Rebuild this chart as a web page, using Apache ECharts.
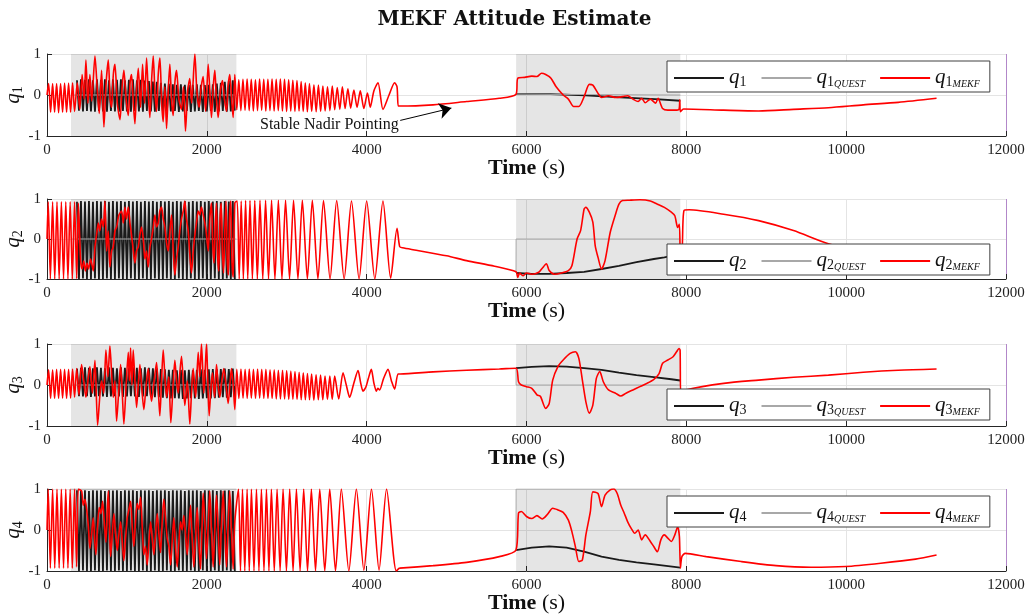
<!DOCTYPE html>
<html>
<head>
<meta charset="utf-8">
<title>MEKF Attitude Estimate</title>
<script src="https://cdn.jsdelivr.net/npm/echarts@6/dist/echarts.min.js"></script>
<style>
  html, body { margin: 0; padding: 0; background: #fff; }
  #chart { width: 1029px; height: 616px; }
</style>
</head>
<body>
<div id="chart"></div>
<script>
// shaded windows (s) and axis ticks
const shadeRanges = [[300, 2370], [5870, 7925]];
const xTicks = [0, 2000, 4000, 6000, 8000, 10000, 12000];
const yTicks = [-1, 0, 1];
const quatNames = ['q1', 'q2', 'q3', 'q4'];

// time stamps of the fast truth oscillation inside the first window
const tFast = [375, 400, 425, 450, 475, 500, 525, 550, 575, 600, 625, 650, 675, 700, 725, 750, 775, 800, 825, 850,
  875, 900, 925, 950, 975, 1000, 1025, 1050, 1075, 1100, 1125, 1150, 1175, 1200, 1225, 1250, 1275, 1300, 1325, 1350,
  1375, 1400, 1425, 1450, 1475, 1500, 1525, 1550, 1575, 1600, 1625, 1650, 1675, 1700, 1725, 1750, 1775, 1800, 1825, 1850,
  1875, 1900, 1925, 1950, 1975, 2000, 2025, 2050, 2075, 2100, 2125, 2150, 2175, 2200, 2225, 2250, 2275, 2300, 2325, 2350];

// true attitude, first window
const q1TrueFast = [0.36, -0.38, 0.38, -0.4, 0.37, -0.39, 0.38, -0.4, 0.36, -0.41, 0.38, -0.39, 0.37, -0.4, 0.38, -0.41, 0.36, -0.39, 0.38, -0.4,
  0.37, -0.41, 0.38, -0.39, 0.36, -0.4, 0.37, -0.41, 0.38, -0.39, 0.36, -0.4, 0.37, -0.41, 0.35, -0.39, 0.34, -0.4, 0.33, -0.41,
  0.32, -0.39, 0.3, -0.4, 0.28, -0.41, 0.27, -0.4, 0.26, -0.39, 0.25, -0.41, 0.26, -0.4, 0.25, -0.39, 0.24, -0.41, 0.25, -0.4,
  0.26, -0.39, 0.25, -0.41, 0.24, -0.4, 0.25, -0.39, 0.26, -0.41, 0.28, -0.4, 0.3, -0.39, 0.32, -0.41, 0.34, -0.4, 0.36, -0.38];
const q2TrueFast = [0.93, -1, 0.95, -0.99, 0.94, -1, 0.95, -1, 0.93, -0.99, 0.95, -1, 0.94, -1, 0.95, -0.99, 0.93, -1, 0.95, -1,
  0.94, -0.99, 0.95, -1, 0.93, -1, 0.95, -0.99, 0.94, -1, 0.95, -1, 0.93, -0.99, 0.95, -1, 0.94, -1, 0.95, -0.99,
  0.93, -1, 0.95, -1, 0.94, -0.99, 0.95, -1, 0.93, -1, 0.95, -0.99, 0.94, -1, 0.95, -1, 0.93, -0.99, 0.95, -1,
  0.94, -1, 0.95, -0.99, 0.93, -1, 0.95, -1, 0.94, -0.99, 0.95, -1, 0.93, -1, 0.95, -0.99, 0.94, -1, 0.95, -1];
const q3TrueFast = [0.4, -0.27, 0.42, -0.28, 0.43, -0.27, 0.42, -0.29, 0.41, -0.28, 0.43, -0.27, 0.42, -0.28, 0.41, -0.29, 0.43, -0.28, 0.42, -0.27,
  0.41, -0.28, 0.43, -0.29, 0.42, -0.28, 0.41, -0.27, 0.43, -0.28, 0.42, -0.29, 0.41, -0.28, 0.43, -0.27, 0.42, -0.28, 0.41, -0.3,
  0.4, -0.3, 0.39, -0.31, 0.38, -0.32, 0.37, -0.33, 0.37, -0.32, 0.36, -0.33, 0.37, -0.34, 0.36, -0.33, 0.37, -0.32, 0.36, -0.33,
  0.37, -0.34, 0.38, -0.33, 0.37, -0.32, 0.38, -0.33, 0.39, -0.32, 0.38, -0.31, 0.39, -0.3, 0.4, -0.31, 0.39, -0.3, 0.4, -0.29];
const q4TrueFast = [0.97, -1, 0.96, -0.99, 0.97, -1, 0.95, -1, 0.97, -0.99, 0.96, -1, 0.97, -1, 0.95, -0.99, 0.97, -1, 0.96, -1,
  0.97, -0.99, 0.95, -1, 0.97, -1, 0.96, -0.99, 0.97, -1, 0.95, -1, 0.97, -0.99, 0.96, -1, 0.97, -1, 0.95, -0.99,
  0.97, -1, 0.96, -1, 0.97, -0.99, 0.95, -1, 0.97, -1, 0.96, -0.99, 0.97, -1, 0.95, -1, 0.97, -0.99, 0.96, -1,
  0.97, -1, 0.95, -0.99, 0.97, -1, 0.96, -1, 0.97, -0.99, 0.95, -1, 0.97, -1, 0.96, -0.99, 0.97, -1, 0.95, -1];

// true attitude, second window [t, q]
const q1TrueSlow = [[5869, 0.02], [6300, 0.02], [6740, -0.01], [7170, -0.06], [7610, -0.1], [7925, -0.14]];
const q2TrueSlow = [[5869, -0.85], [6066, -0.87], [6284, -0.87], [6502, -0.85], [6721, -0.82], [6939, -0.75],
  [7157, -0.67], [7376, -0.58], [7594, -0.5], [7725, -0.46], [7925, -0.38]];
const q3TrueSlow = [[5869, 0.41], [6066, 0.44], [6284, 0.46], [6502, 0.45], [6721, 0.41], [6939, 0.37],
  [7157, 0.3], [7376, 0.24], [7594, 0.19], [7812, 0.14], [7925, 0.11]];
const q4TrueSlow = [[5869, -0.49], [6066, -0.43], [6284, -0.4], [6502, -0.43], [6721, -0.53], [6939, -0.65],
  [7157, -0.73], [7376, -0.79], [7594, -0.84], [7925, -0.92]];

// QUEST solution [t, q]
const q1Quest = [[300, 0], [2370, 0], [4000, '-'], [5869, 0.02], [5870, 0], [7925, 0]];
const q2Quest = [[300, 0], [2370, 0], [4000, '-'], [5869, -0.85], [5870, 0], [7925, 0]];
const q3Quest = [[300, 0], [2370, 0], [4000, '-'], [5869, 0.41], [5870, 0], [7925, 0]];
const q4Quest = [[300, 1], [2370, 1], [4000, '-'], [5869, -0.49], [5870, 1], [7925, 1]];

// MEKF estimate [t, q]
const q1Mekf = [[0, 0], [20, 0.28], [45, -0.42], [70, 0.28], [95, -0.42], [120, 0.28], [145, -0.43], [170, 0.28], [195, -0.42],
  [220, 0.29], [245, -0.42], [270, 0.29], [295, -0.42], [320, 0.3], [345, -0.4], [379, 0.3], [410, -0.35], [440, 0.5],
  [465, -0.1], [487, 0.85], [512, -0.2], [537, 0.5], [560, -0.15], [600, 0.95], [630, 0.1], [654, -0.45], [683, 0.6],
  [712, -0.78], [740, 0.3], [767, 0.85], [790, -0.1], [808, -0.3], [830, 0.5], [850, 0.75], [880, -0.2], [913, -0.6],
  [940, 0.2], [962, 0.6], [990, -0.1], [1017, -0.5], [1040, 0.3], [1058, 0.5], [1080, -0.2], [1100, -0.7], [1120, 0.1],
  [1142, 0.65], [1170, -0.3], [1196, 0.75], [1220, -0.2], [1246, 0.9], [1268, 0], [1287, -0.55], [1310, 0.4], [1329, 0.95],
  [1350, 0.1], [1371, -0.4], [1392, 0.5], [1413, 0.9], [1435, -0.2], [1454, -0.65], [1475, 0.2], [1496, -0.82], [1517, 0.1],
  [1537, 0.75], [1558, -0.1], [1579, -0.5], [1600, 0.3], [1621, 0.6], [1650, -0.1], [1683, -0.35], [1708, 0.2], [1733, -0.88],
  [1760, 0.1], [1787, 0.4], [1810, -0.2], [1850, 1], [1875, 0.1], [1904, -0.3], [1930, 0.2], [1954, 0.45], [1985, -0.4],
  [2017, 0.75], [2040, 0], [2058, -0.55], [2080, 0.2], [2100, 0.6], [2120, -0.1], [2142, -0.55], [2170, 0.1], [2196, 0.35],
  [2220, -0.1], [2246, -0.4], [2265, 0.2], [2287, 0.5], [2310, -0.1], [2329, -0.55], [2350, 0.5],
  [2375, -0.36], [2400, 0.37], [2426, -0.38], [2452, 0.38], [2478, -0.37], [2504, 0.39], [2530, -0.38], [2556, 0.38],
  [2582, -0.39], [2608, 0.37], [2634, -0.38], [2660, 0.39], [2686, -0.37], [2712, 0.38], [2738, -0.39], [2764, 0.38],
  [2790, -0.38], [2816, 0.39], [2842, -0.39], [2868, 0.38], [2894, -0.38], [2920, 0.39], [2946, -0.39], [2972, 0.38],
  [2998, -0.4], [3024, 0.37], [3050, -0.39], [3076, 0.36], [3102, -0.4], [3128, 0.35], [3154, -0.39], [3180, 0.33],
  [3206, -0.4], [3232, 0.3], [3258, -0.41], [3284, 0.28], [3312, -0.4], [3340, 0.25], [3368, -0.41], [3396, 0.24],
  [3424, -0.4], [3452, 0.22], [3480, -0.39], [3510, 0.2], [3540, -0.38], [3570, 0.22], [3600, -0.36], [3632, 0.18],
  [3664, -0.35], [3696, 0.2], [3730, -0.33], [3765, 0.15], [3800, -0.32], [3840, 0.12], [3880, -0.3], [3920, 0.1],
  [3965, -0.33], [4010, 0.05], [4045, -0.3], [4090, 0.1], [4142, 0.3], [4204, -0.35], [4280, 0], [4350, 0.3], [4380, 0.2],
  [4395, -0.27], [4420, -0.27], [4830, -0.24], [5250, -0.16], [5660, -0.08], [5869, 0.02],
  [5891, 0.41], [5978, 0.43], [6066, 0.46], [6131, 0.45], [6188, 0.53], [6240, 0.5], [6306, 0.41], [6371, 0.2], [6459, 0],
  [6524, -0.1], [6590, -0.28], [6655, -0.28], [6721, -0.04], [6786, 0.26], [6830, 0.24], [6895, 0.04], [6939, -0.06],
  [7026, -0.02], [7114, -0.06], [7201, -0.04], [7266, -0.02], [7332, -0.1], [7397, -0.16], [7441, -0.08], [7485, -0.19],
  [7550, -0.1], [7616, -0.2], [7646, -0.08], [7703, -0.33], [7769, -0.37], [7856, -0.37], [7908, -0.35], [7918, -0.12],
  [7926, -0.41], [7965, -0.34], [8467, -0.37], [8904, -0.39], [9341, -0.35], [9778, -0.31], [10214, -0.24], [10651, -0.18],
  [11131, -0.08]];

const q2Mekf = [[0, 0], [15, 0.93], [42, -1], [70, 0.93], [97, -1], [125, 0.93], [152, -1], [180, 0.93], [207, -1], [235, 0.93],
  [262, -1], [290, 0.93], [317, -1], [345, 0.93], [372, -0.99], [392, 0.9], [420, -0.5], [440, -0.75], [460, -0.55],
  [480, -0.8], [500, -0.6], [520, -0.75], [545, -0.5], [579, -0.8], [600, -0.2], [620, 0.1], [642, 0.4], [660, 0.2],
  [683, 0.5], [705, 0.3], [725, 0.95], [746, -0.3], [766, 0.2], [787, -0.7], [808, -0.3], [829, -0.2], [850, 0.2],
  [871, 0.3], [900, 0.6], [933, 0.7], [955, 0.4], [975, 0.8], [995, 0.5], [1017, 0.8], [1038, 0.4], [1058, 0.1],
  [1080, -0.3], [1100, -0.6], [1120, -0.3], [1142, -0.2], [1162, 0.1], [1183, 0.3], [1205, 0], [1225, -0.5], [1245, -0.3],
  [1267, -0.7], [1288, -0.2], [1308, 0], [1330, 0.3], [1350, 0.6], [1370, 0.3], [1392, 0.4], [1412, 0.7], [1433, 0.8],
  [1455, 0.5], [1475, 0.3], [1496, -0.1], [1517, -0.3], [1538, 0.2], [1558, 0.6], [1580, -0.3], [1600, -0.9], [1620, -0.5],
  [1642, -0.2], [1662, 0.2], [1683, 0.5], [1705, 0.7], [1725, 0.95], [1745, 0.5], [1767, 0.2], [1788, -0.4], [1808, -0.85],
  [1830, -0.3], [1850, 0.1], [1870, 0.4], [1892, 0.7], [1912, 0.6], [1933, 0.8], [1955, 0.6], [1975, 0.4], [1996, 0.1],
  [2017, -0.3], [2037, 0.5], [2058, 0.9], [2075, -0.2], [2090, -0.6], [2105, 0.3], [2120, 0.9], [2135, -0.4], [2150, -0.8],
  [2165, 0.5], [2180, 0.9], [2195, -0.3], [2210, -0.85], [2225, 0.2], [2240, 0.95], [2255, -0.5], [2270, -0.9], [2285, 0.6],
  [2300, 0.95], [2315, -0.6], [2330, -0.95], [2350, 0.9],
  [2380, 0.95], [2405, -1], [2430, 0.95], [2457, -1], [2485, 0.96], [2512, -1], [2540, 0.96], [2570, -1], [2600, 0.96],
  [2632, -1], [2665, 0.97], [2700, -1], [2735, 0.97], [2772, -1], [2810, 0.97], [2852, -1], [2895, 0.97], [2940, -1],
  [2985, 0.97], [3035, -1], [3085, 0.97], [3140, -1], [3195, 0.97], [3258, -1], [3320, 0.97], [3390, -1], [3460, 0.96],
  [3542, -1], [3625, 0.96], [3718, -1], [3810, 0.95], [3905, -1], [4000, 0.95], [4102, -1], [4204, 0.95], [4300, -0.98],
  [4380, 0.27], [4413, -0.19], [4450, -0.22], [4620, -0.28], [5000, -0.42], [5250, -0.54], [5600, -0.68], [5869, -0.82],
  [5891, -0.96], [5913, -0.85], [5956, -0.92], [6000, -0.85], [6066, -0.88], [6153, -0.83], [6197, -0.73], [6249, -0.62],
  [6284, -0.79], [6349, -0.88], [6437, -0.85], [6524, -0.79], [6568, -0.67], [6633, 0], [6677, 0.21], [6721, 0.75],
  [6742, 0.79], [6786, 0.67], [6830, 0.42], [6860, -0.17], [6895, -0.46], [6939, -0.75], [6983, -0.54], [7048, 0.17],
  [7114, 0.62], [7157, 0.87], [7201, 0.96], [7288, 0.97], [7419, 0.98], [7550, 0.95], [7638, 0.87], [7725, 0.79],
  [7812, 0.67], [7856, 0.58], [7891, 0.29], [7913, 0.37], [7926, -0.5], [7948, -0.25], [7970, 0.71], [8035, 0.73],
  [8467, 0.62], [8904, 0.46], [9341, 0.21], [9778, -0.12], [10400, -0.42], [11131, -0.75]];

const q3Mekf = [[0, 0], [20, 0.37], [45, -0.33], [70, 0.37], [95, -0.33], [120, 0.38], [145, -0.33], [170, 0.38], [195, -0.32],
  [220, 0.38], [245, -0.33], [270, 0.38], [295, -0.32], [320, 0.39], [345, -0.3], [371, 0.4], [400, -0.25], [433, 0.5],
  [460, 0.1], [487, -0.3], [512, 0.1], [537, 0.45], [568, -0.2], [600, 0.6], [633, -0.98], [660, -0.3], [683, 0.1],
  [710, -0.2], [737, 0.85], [762, 0.2], [787, 0.95], [808, 0.3], [829, -0.3], [850, 0.1], [871, -0.88], [896, -0.2],
  [921, 0.5], [942, -0.2], [962, -0.95], [990, 0], [1017, 0.8], [1030, 0.1], [1046, 0.9], [1062, 0], [1079, 0.85],
  [1100, 0.1], [1121, -0.55], [1142, 0], [1162, 0.5], [1187, -0.1], [1212, -0.6], [1240, 0], [1267, 0.4], [1288, -0.1],
  [1308, -0.4], [1340, 0.1], [1371, 0.55], [1392, -0.1], [1412, -0.75], [1433, 0.1], [1454, 0.85], [1475, 0.2],
  [1496, -0.3], [1523, 0.2], [1550, -0.92], [1575, -0.1], [1600, 0.6], [1621, 0.1], [1642, -0.2], [1662, 0.3], [1683, 0.7],
  [1704, 0.1], [1725, -0.5], [1756, 0.1], [1787, -0.95], [1808, -0.2], [1829, 0.4], [1860, -0.3], [1892, 0.8], [1912, 0.2],
  [1933, 1], [1950, 0.3], [1962, -0.2], [1980, 0.4], [1996, 1], [2012, 0.1], [2029, -0.75], [2050, -0.1], [2071, 0.3],
  [2096, -0.3], [2121, 0.5], [2142, 0], [2162, -0.3], [2187, 0.1], [2212, 0.4], [2240, 0], [2267, -0.45], [2288, 0],
  [2308, 0.4], [2330, 0], [2350, -0.6],
  [2375, 0.38], [2401, -0.33], [2427, 0.39], [2453, -0.32], [2479, 0.38], [2505, -0.33], [2531, 0.39], [2557, -0.32],
  [2583, 0.38], [2609, -0.33], [2635, 0.39], [2661, -0.32], [2687, 0.38], [2713, -0.33], [2739, 0.38], [2765, -0.33],
  [2791, 0.37], [2817, -0.33], [2843, 0.37], [2869, -0.34], [2895, 0.36], [2921, -0.34], [2947, 0.36], [2973, -0.34],
  [2999, 0.35], [3025, -0.35], [3051, 0.34], [3077, -0.35], [3103, 0.33], [3129, -0.35], [3155, 0.31], [3181, -0.36],
  [3207, 0.3], [3233, -0.36], [3259, 0.28], [3285, -0.36], [3311, 0.27], [3339, -0.37], [3367, 0.25], [3395, -0.36],
  [3423, 0.24], [3451, -0.36], [3479, 0.22], [3509, -0.35], [3539, 0.22], [3569, -0.35], [3600, 0.22], [3650, -0.34],
  [3704, 0.3], [3745, 0], [3787, -0.3], [3840, 0.05], [3892, 0.35], [3925, 0.05], [3954, -0.15], [3990, -0.05],
  [4020, 0.15], [4058, 0.38], [4090, 0.05], [4121, -0.15], [4140, -0.08], [4162, -0.12], [4210, 0.15], [4267, 0.38],
  [4310, 0.1], [4350, -0.1], [4392, 0.27], [4420, 0.27], [4830, 0.32], [5250, 0.36], [5660, 0.39], [5869, 0.41],
  [5900, 0.08], [5935, 0], [6000, -0.04], [6066, -0.08], [6131, -0.24], [6175, -0.28], [6240, -0.57], [6284, -0.45],
  [6328, 0.12], [6393, 0.45], [6459, 0.61], [6546, 0.77], [6612, 0.81], [6655, 0.65], [6699, 0.12], [6743, -0.41],
  [6786, -0.69], [6830, -0.49], [6874, 0.16], [6917, 0.33], [6961, 0.08], [7026, -0.12], [7114, -0.2], [7179, -0.27],
  [7245, -0.2], [7332, -0.12], [7419, -0.04], [7507, 0.04], [7594, 0.14], [7659, 0.28], [7703, 0.53], [7769, 0.61],
  [7834, 0.69], [7878, 0.81], [7908, 0.89], [7922, 0.85], [7930, -0.2], [7987, -0.12], [8467, 0.04], [8904, 0.12],
  [9341, 0.19], [9778, 0.24], [10214, 0.31], [10651, 0.36], [11131, 0.39]];

const q4Mekf = [[0, 0], [15, 1], [42, -0.93], [70, 1], [97, -0.93], [125, 1], [152, -0.93], [180, 1], [207, -0.93], [235, 1],
  [262, -0.93], [290, 1], [317, -0.93], [345, 1], [370, -0.9], [392, 1], [433, 0.95], [454, 0.6], [475, 0.75], [496, 0.5],
  [517, 0.1], [537, -0.45], [558, -0.1], [579, 0.3], [596, -0.2], [612, -0.6], [633, 0.1], [654, 0.55], [675, 0.4],
  [696, 0.7], [716, 0.2], [737, -0.3], [752, 0.4], [767, 0.95], [782, 0.1], [796, -0.65], [817, -0.1], [837, 0.4],
  [858, -0.1], [879, -0.5], [900, -0.1], [921, 0.2], [942, -0.3], [962, -0.75], [983, -0.2], [1004, 0.3], [1025, 0.5],
  [1046, 0.7], [1066, 0.1], [1087, -0.4], [1108, 0.2], [1129, 0.65], [1150, 0.5], [1171, 0.8], [1191, 0.1], [1212, -0.6],
  [1233, -0.4], [1254, -0.85], [1275, -0.3], [1296, 0.2], [1316, -0.2], [1337, -0.6], [1358, -0.1], [1379, 0.4],
  [1400, -0.1], [1421, -0.55], [1441, 0.2], [1462, 0.75], [1483, 0.3], [1504, -0.2], [1525, -0.4], [1546, -0.85],
  [1566, -0.3], [1587, 0.3], [1608, -0.4], [1629, -0.9], [1650, -0.3], [1671, 0.2], [1691, 0], [1712, 0.35], [1733, -0.1],
  [1754, -0.6], [1775, 0], [1796, 0.6], [1816, -0.2], [1837, -0.9], [1858, -0.2], [1879, 0.55], [1900, -0.3], [1921, -0.95],
  [1938, 0], [1954, 0.9], [1975, 0.2], [1996, -0.7], [2017, 0.1], [2037, 0.95], [2058, 0], [2079, -0.9], [2100, 0],
  [2121, 0.85], [2142, 0], [2162, -0.85], [2183, 0.1], [2204, 0.95], [2225, 0], [2246, -0.9], [2266, 0.1], [2287, 0.95],
  [2308, 0], [2329, -0.95], [2350, 0.2],
  [2396, 1], [2421, -1], [2446, 1], [2475, -1], [2504, 1], [2531, -1], [2558, 1], [2590, -1], [2621, 1], [2652, -1],
  [2683, 1], [2715, -1], [2746, 1], [2777, -1], [2808, 1], [2844, -1], [2879, 1], [2917, -1], [2954, 1], [2996, -1],
  [3037, 1], [3079, -1], [3121, 1], [3167, -1], [3212, 1], [3260, -1], [3308, 1], [3360, -1], [3413, 1], [3476, -1],
  [3538, 1], [3610, -1], [3683, 1], [3777, -1], [3871, 1], [3965, -0.98], [4060, 1], [4155, -0.98], [4249, 1],
  [4371, -1], [4413, -0.93], [4420, -0.93], [4830, -0.87], [5250, -0.79], [5660, -0.65], [5869, -0.49],
  [5900, 0.41], [5935, 0.45], [6000, 0.33], [6066, 0.28], [6131, 0.35], [6197, 0.27], [6262, 0.38], [6328, 0.53],
  [6393, 0.49], [6459, 0.43], [6524, 0.24], [6568, -0.04], [6612, -0.41], [6655, -0.77], [6699, -0.73], [6743, -0.12],
  [6799, 0.45], [6830, 0.93], [6895, 0.89], [6939, 0.57], [6983, 0.85], [7048, 0.98], [7092, 1], [7135, 0.89],
  [7179, 0.61], [7223, 0.41], [7266, 0.2], [7310, 0.04], [7354, -0.08], [7397, 0], [7441, -0.24], [7485, -0.12],
  [7550, -0.28], [7594, -0.41], [7638, -0.53], [7681, -0.24], [7725, -0.12], [7769, -0.2], [7812, -0.28], [7856, -0.12],
  [7891, 0.08], [7913, -0.16], [7926, -0.93], [7944, -0.65], [7987, -0.57], [8249, -0.65], [8686, -0.77], [9122, -0.87],
  [9559, -0.91], [9996, -0.89], [10433, -0.81], [10869, -0.71], [11131, -0.61]];

// annotation in panel 1
const noteText = 'Stable Nadir Pointing';
const noteAt = [4400, -0.72];
const arrowFrom = [4420, -0.62];
const arrowTo = [5060, -0.32];

const SERIF = "'Liberation Serif', 'DejaVu Serif', serif";
const gridTops = [54, 199, 344, 489];
const gridHeights = [82, 80, 82, 82];
const legendTops = [61, 244, 389, 496];

const fastPairs = (vals) => tFast.map((t, i) => [t, vals[i]]);
const trueData = [
  fastPairs(q1TrueFast).concat([[4000, '-']], q1TrueSlow),
  fastPairs(q2TrueFast).concat([[4000, '-']], q2TrueSlow),
  fastPairs(q3TrueFast).concat([[4000, '-']], q3TrueSlow),
  fastPairs(q4TrueFast).concat([[4000, '-']], q4TrueSlow),
];
const questData = [q1Quest, q2Quest, q3Quest, q4Quest];
const mekfData = [q1Mekf, q2Mekf, q3Mekf, q4Mekf];

const subRich = {
  q: { fontFamily: SERIF, fontStyle: 'italic', fontSize: 21, lineHeight: 22, verticalAlign: 'top', color: '#111' },
  s: { fontFamily: SERIF, fontSize: 14, lineHeight: 14, padding: [9, 0, 0, 0], verticalAlign: 'bottom', color: '#111' },
  t: { fontFamily: SERIF, fontStyle: 'italic', fontSize: 10, lineHeight: 10, padding: [15, 0, 0, 0], verticalAlign: 'bottom', color: '#111' },
};
const richName = (name) => {
  const [q, tag] = name.split(' ');
  const idx = q.slice(1);
  return tag ? `{q|q}{s|${idx}}{t|${tag}}` : `{q|q}{s|${idx}}`;
};

const grids = [], xAxes = [], yAxes = [], legends = [], series = [];
const splitColors = xTicks.map((t, i) => (i === xTicks.length - 1 ? '#b287c9' : '#e4e4e4'));

quatNames.forEach((q, k) => {
  grids.push({ left: 47, right: 23, top: gridTops[k], height: gridHeights[k], outerBoundsMode: 'none', containLabel: false });
  xAxes.push({
    gridIndex: k, type: 'value', min: xTicks[0], max: xTicks[xTicks.length - 1], interval: 2000,
    name: '{b|Time} (s)', nameLocation: 'middle', nameGap: 21, nameMoveOverlap: false,
    nameTextStyle: { fontFamily: SERIF, fontSize: 22, color: '#111',
      rich: { b: { fontFamily: SERIF, fontSize: 22, fontWeight: 'bold', color: '#111' } } },
    axisLine: { show: true, onZero: false, lineStyle: { color: '#262626', width: 1 } },
    axisTick: { inside: true, length: 5, lineStyle: { color: '#262626' } },
    axisLabel: { fontFamily: SERIF, fontSize: 15, color: '#222', margin: 7, formatter: (v) => String(v) },
    splitLine: { show: true, lineStyle: { color: splitColors, width: 1 } },
  });
  yAxes.push({
    gridIndex: k, type: 'value', min: yTicks[0], max: yTicks[yTicks.length - 1], interval: 1,
    name: richName(q), nameLocation: 'middle', nameRotate: 90, nameGap: 22, nameMoveOverlap: false,
    nameTextStyle: { rich: subRich },
    axisLine: { show: true, onZero: false, lineStyle: { color: '#262626', width: 1 } },
    axisTick: { show: true, inside: true, length: 5, lineStyle: { color: '#262626' } },
    axisLabel: { fontFamily: SERIF, fontSize: 15, color: '#222', margin: 6 },
    splitLine: { show: true, lineStyle: { color: '#e4e4e4', width: 1 } },
  });
  legends.push({
    left: 667, top: legendTops[k], orient: 'horizontal', selectedMode: false,
    data: [q, q + ' QUEST', q + ' MEKF'],
    itemWidth: 50, itemHeight: 12, itemGap: 14,
    padding: [3, 10, 3, 6],
    itemStyle: { opacity: 0 },
    backgroundColor: '#fff', borderColor: '#404040', borderWidth: 1,
    formatter: richName,
    textStyle: { rich: subRich },
  });
  series.push({
    name: q, type: 'line', xAxisIndex: k, yAxisIndex: k, data: trueData[k],
    symbol: 'none', itemStyle: { color: '#1a1a1a' }, lineStyle: { color: '#1a1a1a', width: 1.8 },
    markArea: {
      silent: true, itemStyle: { color: 'rgba(0,0,0,0.1)' },
      data: shadeRanges.map(([a, b]) => [{ xAxis: a }, { xAxis: b }]),
    },
  });
  series.push({
    name: q + ' QUEST', type: 'line', xAxisIndex: k, yAxisIndex: k, data: questData[k],
    symbol: 'none', itemStyle: { color: '#a8a8a8' }, lineStyle: { color: '#a8a8a8', width: 1 },
  });
  const red = {
    name: q + ' MEKF', type: 'line', xAxisIndex: k, yAxisIndex: k, data: mekfData[k],
    symbol: 'none', smooth: 0.25, itemStyle: { color: '#ff0000' }, lineStyle: { color: '#ff0000', width: 1.6 },
  };
  if (k === 0) {
    red.markLine = {
      silent: true, symbol: ['none', 'arrow'], symbolSize: 12,
      lineStyle: { color: '#000', width: 1, type: 'solid' }, label: { show: false },
      data: [[{ coord: arrowFrom }, { coord: arrowTo }]],
    };
    red.markPoint = {
      silent: true, symbol: 'circle', symbolSize: 0,
      label: { show: true, position: 'left', distance: 0, formatter: noteText,
        fontFamily: SERIF, fontSize: 16, color: '#111' },
      data: [{ coord: noteAt }],
    };
  }
  series.push(red);
});

const chart = echarts.init(document.getElementById('chart'), null, { renderer: 'canvas' });
chart.setOption({
  animation: false,
  backgroundColor: '#fff',
  title: {
    text: 'MEKF Attitude Estimate', left: 'center', top: 5,
    textStyle: { fontFamily: "'DejaVu Serif', serif", fontWeight: 'bold', fontSize: 20, color: '#111' },
  },
  grid: grids,
  xAxis: xAxes,
  yAxis: yAxes,
  legend: legends,
  series,
});
</script>
</body>
</html>
